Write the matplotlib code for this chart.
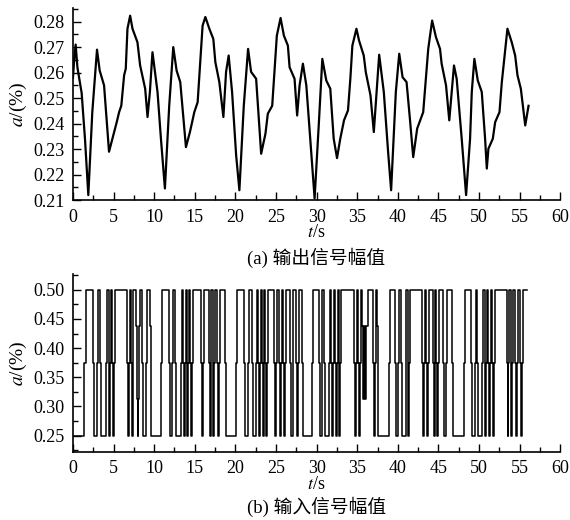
import matplotlib
matplotlib.use("Agg")
import matplotlib.pyplot as plt
from matplotlib.ticker import MultipleLocator, FormatStrFormatter

plt.rcParams['font.family'] = ['Liberation Serif', 'Noto Sans CJK SC', 'DejaVu Sans']
plt.rcParams['mathtext.fontset'] = 'stix'

# ---- (a) output signal amplitude ----
t_out = [0.0, 0.15, 0.33, 0.55, 1.07, 1.48, 1.89, 2.38, 2.96, 3.29, 3.83, 4.44, 4.85, 5.39, 5.68, 5.95,
         6.30, 6.50, 6.71, 7.04, 7.33, 7.94, 8.27, 8.89, 9.18, 9.47, 9.79, 10.41, 10.83, 11.32, 11.85,
         12.35, 12.76, 13.21, 13.91, 14.40, 14.94, 15.35, 15.96, 16.30, 16.79, 17.28, 17.53, 18.02,
         18.52, 18.85, 19.17, 19.59, 20.09, 20.49, 21.03, 21.56, 21.93, 22.55, 23.17, 23.70, 23.99,
         24.53, 25.10, 25.56, 25.97, 26.46, 26.67, 27.28, 27.60, 27.90, 28.31, 28.73, 29.75, 30.28,
         30.70, 31.19, 31.68, 32.10, 32.51, 32.91, 33.37, 33.86, 34.15, 34.40, 34.90, 35.22, 35.80,
         36.05, 36.63, 37.04, 37.70, 38.27, 38.80, 39.17, 39.75, 40.17, 40.58, 41.07, 41.48, 41.89,
         42.38, 43.12, 43.74, 44.22, 44.69, 45.19, 45.39, 45.93, 46.33, 46.91, 47.24, 47.86, 48.40,
         48.89, 49.10, 49.42, 49.84, 50.33, 50.74, 50.95, 51.15, 51.69, 51.98, 52.51, 52.80, 53.49,
         54.02, 54.44, 54.73, 55.14, 55.68, 56.09]
a_out = [0.258, 0.265, 0.271, 0.262, 0.252, 0.234, 0.212, 0.2445, 0.269, 0.2608, 0.255, 0.229, 0.234,
         0.2406, 0.2445, 0.247, 0.259, 0.2615, 0.2772, 0.2823, 0.2772, 0.2719, 0.2628, 0.2537, 0.2426,
         0.2524, 0.268, 0.2524, 0.2341, 0.2146, 0.247, 0.270, 0.2608, 0.2563, 0.2308, 0.2367, 0.2445,
         0.2484, 0.2784, 0.2818, 0.2772, 0.2732, 0.2641, 0.2563, 0.2426, 0.2603, 0.2667, 0.2524, 0.2276,
         0.2139, 0.247, 0.2693, 0.2603, 0.2576, 0.2282, 0.2361, 0.2439, 0.247, 0.2745, 0.2814, 0.2745,
         0.2706, 0.2621, 0.2576, 0.2432, 0.255, 0.2635, 0.255, 0.2107, 0.2406, 0.2654, 0.2569, 0.2537,
         0.2341, 0.2265, 0.2341, 0.2413, 0.2452, 0.2576, 0.2706, 0.2772, 0.2726, 0.2667, 0.2602, 0.2511,
         0.2367, 0.267, 0.2524, 0.2289, 0.2139, 0.2524, 0.2674, 0.2582, 0.2563, 0.242, 0.2269, 0.2381,
         0.2445, 0.2693, 0.2804, 0.2739, 0.2693, 0.2635, 0.255, 0.2413, 0.2628, 0.2576, 0.2341, 0.212,
         0.2341, 0.2524, 0.2654, 0.2569, 0.2524, 0.2341, 0.2224, 0.2302, 0.2341, 0.2406, 0.2445, 0.2563,
         0.2772, 0.2719, 0.2667, 0.2589, 0.2537, 0.2393, 0.247]

# ---- (b) input signal amplitude: step transitions (time, level) ----
t_in = [0.00, 1.40, 1.58, 2.43, 2.55, 2.96, 3.10, 3.38, 3.50, 4.10, 4.22, 4.38, 4.48, 4.60, 4.70, 4.82,
        4.92, 5.02, 5.12, 6.70, 6.80, 6.92, 7.02, 7.15, 7.25, 7.35, 7.45, 7.75, 7.85, 7.95, 8.05, 8.12,
        8.20, 8.50, 8.62, 8.95, 9.08, 9.45, 9.55, 9.65,
        10.85, 11.02, 11.77, 11.90, 12.20, 12.32, 12.52, 12.64, 13.30, 13.42, 13.55, 13.65, 13.78, 13.88,
        14.00, 14.10, 14.22, 14.32, 14.45, 14.55, 14.65, 14.75, 15.80, 15.92, 16.05, 16.15, 16.70, 16.82,
        16.95, 17.05, 17.20, 17.30, 17.42, 17.52, 17.75, 17.85, 17.98, 18.08, 18.70, 18.82,
        20.05, 20.20, 21.05, 21.18, 21.60, 21.72, 22.00, 22.12, 22.55, 22.65, 22.80, 22.90, 23.02, 23.12,
        23.25, 23.35, 23.48, 23.58, 23.70, 23.80, 23.88, 23.98, 24.80, 24.92, 25.05, 25.15, 25.35, 25.45,
        25.58, 25.68, 25.90, 26.00, 26.12, 26.22, 26.70, 26.82, 27.05, 27.15, 27.45, 27.55, 27.70, 27.80,
        28.15, 28.27,
        29.40, 29.52, 30.25, 30.37, 30.60, 30.72, 30.95, 31.07, 31.50, 31.62, 31.78, 31.88, 32.00, 32.10,
        32.25, 32.35, 32.48, 32.58, 32.70, 32.80, 32.92, 33.02, 34.60, 34.72, 34.85, 34.95, 35.10, 35.20,
        35.32, 35.42, 35.60, 35.70, 35.85, 35.95, 36.10, 36.30, 36.95, 37.05, 37.15, 37.25, 37.40, 37.50,
        37.60,
        38.90, 39.02, 39.70, 39.82, 40.05, 40.17, 40.40, 40.52, 40.95, 41.05, 41.20, 41.30, 41.42, 41.52,
        43.00, 43.10, 43.22, 43.32, 43.45, 43.55, 43.68, 43.78, 44.30, 44.40, 44.52, 44.62, 44.75, 44.85,
        44.98, 45.08, 45.60, 45.72, 45.90, 46.02, 46.65, 46.77,
        48.15, 48.28, 48.95, 49.07, 49.45, 49.57, 49.80, 49.92, 50.40, 50.52, 50.68, 50.78, 50.90, 51.00,
        51.15, 51.25, 51.38, 51.48, 51.60, 51.70, 51.82, 51.92, 53.40, 53.50, 53.62, 53.72, 53.88, 53.98,
        54.10, 54.20, 54.40, 54.50, 54.65, 54.75, 55.00, 55.10, 55.25, 55.35, 55.85]
v_in = [0.25, 0.375, 0.5, 0.375, 0.25, 0.375, 0.5, 0.375, 0.25, 0.375, 0.5, 0.375, 0.25, 0.375, 0.5, 0.375,
        0.25, 0.375, 0.5, 0.375, 0.25, 0.375, 0.5, 0.375, 0.25, 0.375, 0.5, 0.4375, 0.3125, 0.25, 0.3125, 0.4375,
        0.5, 0.375, 0.25, 0.375, 0.5, 0.4375, 0.3125, 0.25,
        0.375, 0.5, 0.375, 0.25, 0.375, 0.5, 0.375, 0.25, 0.375, 0.5, 0.375, 0.25, 0.375, 0.5,
        0.375, 0.25, 0.375, 0.5, 0.375, 0.25, 0.375, 0.5, 0.375, 0.25, 0.375, 0.5, 0.375, 0.25,
        0.375, 0.5, 0.375, 0.25, 0.375, 0.5, 0.375, 0.25, 0.375, 0.5, 0.375, 0.25,
        0.375, 0.5, 0.375, 0.25, 0.375, 0.5, 0.375, 0.25, 0.375, 0.5, 0.375, 0.25, 0.375, 0.5,
        0.375, 0.25, 0.375, 0.5, 0.375, 0.25, 0.375, 0.5, 0.375, 0.25, 0.375, 0.5, 0.375, 0.25,
        0.375, 0.5, 0.375, 0.25, 0.375, 0.5, 0.375, 0.25, 0.375, 0.5, 0.375, 0.25, 0.375, 0.5,
        0.375, 0.25,
        0.375, 0.5, 0.375, 0.25, 0.375, 0.5, 0.375, 0.25, 0.375, 0.5, 0.375, 0.25, 0.375, 0.5,
        0.375, 0.25, 0.375, 0.5, 0.375, 0.25, 0.375, 0.5, 0.375, 0.25, 0.375, 0.5, 0.375, 0.25,
        0.375, 0.5, 0.4375, 0.3125, 0.4375, 0.3125, 0.4375, 0.5, 0.375, 0.25, 0.375, 0.5, 0.4375, 0.3125,
        0.25,
        0.375, 0.5, 0.375, 0.25, 0.375, 0.5, 0.375, 0.25, 0.375, 0.5, 0.375, 0.25, 0.375, 0.5,
        0.375, 0.25, 0.375, 0.5, 0.375, 0.25, 0.375, 0.5, 0.375, 0.25, 0.375, 0.5, 0.375, 0.25,
        0.375, 0.5, 0.375, 0.25, 0.375, 0.5, 0.375, 0.25,
        0.375, 0.5, 0.375, 0.25, 0.375, 0.5, 0.375, 0.25, 0.375, 0.5, 0.375, 0.25, 0.375, 0.5,
        0.375, 0.25, 0.375, 0.5, 0.375, 0.25, 0.375, 0.5, 0.375, 0.25, 0.375, 0.5, 0.375, 0.25,
        0.375, 0.5, 0.375, 0.25, 0.375, 0.5, 0.375, 0.25, 0.375, 0.5, 0.5]

x_ticks = [0, 5, 10, 15, 20, 25, 30, 35, 40, 45, 50, 55, 60]
y_ticks_a = [0.21, 0.22, 0.23, 0.24, 0.25, 0.26, 0.27, 0.28]
y_ticks_b = [0.25, 0.30, 0.35, 0.40, 0.45, 0.50]
cap_a = '(a) 输出信号幅值'
cap_b = '(b) 输入信号幅值'
ylab = r'$a$/(%)'
xlab = r'$t$/s'

fig = plt.figure(figsize=(5.7, 5.2), dpi=100)
ax1 = fig.add_axes([0.128, 0.615, 0.855, 0.369])
ax2 = fig.add_axes([0.128, 0.131, 0.855, 0.342])

ax1.plot(t_out, a_out, color='black', lw=1.6)
ax2.step(t_in, v_in, where='post', color='black', lw=1.1)

def style(ax, ylo, yhi, yticks, ymin):
    for s in ['top', 'right']:
        ax.spines[s].set_visible(False)
    for s in ['left', 'bottom']:
        ax.spines[s].set_linewidth(1.2)
    ax.set_xticks(x_ticks)
    ax.set_yticks(yticks)
    ax.set_xlim(0, 60)
    ax.set_ylim(ylo, yhi)
    ax.xaxis.set_minor_locator(MultipleLocator(2.5))
    ax.yaxis.set_minor_locator(MultipleLocator(ymin))
    ax.yaxis.set_major_formatter(FormatStrFormatter('%.2f'))
    ax.tick_params(which='both', direction='in', top=False, right=False, labelsize=13, width=1.0)
    ax.tick_params(which='major', length=6, pad=6)
    ax.tick_params(which='minor', length=3.5)
    ax.set_ylabel(ylab, fontsize=14, labelpad=3)
    ax.set_xlabel(xlab, fontsize=13, labelpad=-1)

style(ax1, 0.21, 0.2852, y_ticks_a, 0.005)
style(ax2, 0.222, 0.527, y_ticks_b, 0.025)

fig.text(0.555, 1 - 258 / 520, cap_a, ha='center', va='center', fontsize=13.5)
fig.text(0.555, 1 - 507 / 520, cap_b, ha='center', va='center', fontsize=13.5)

fig.savefig('out.png', dpi=100)
